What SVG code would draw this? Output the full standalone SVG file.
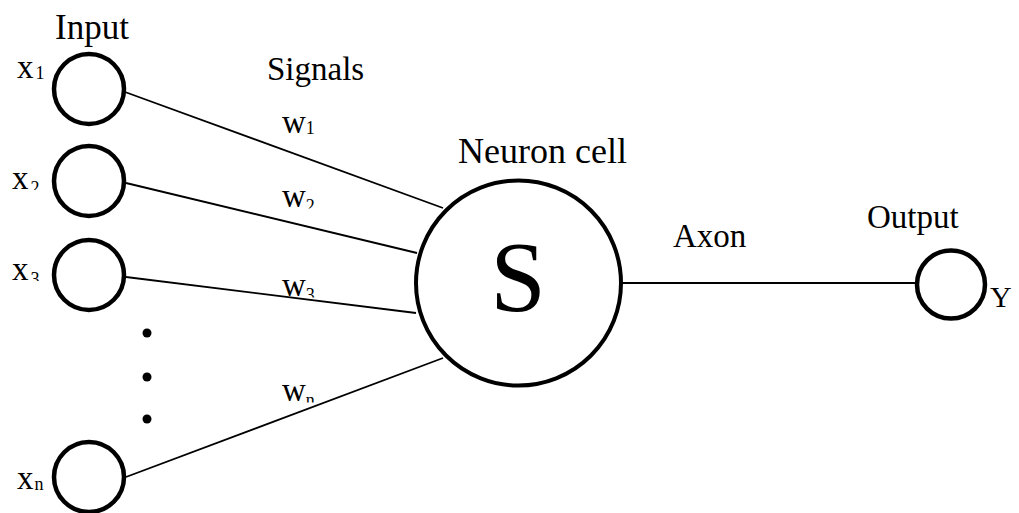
<svg xmlns="http://www.w3.org/2000/svg" width="1019" height="513" viewBox="0 0 1019 513" font-family="'Liberation Serif', 'Times New Roman', Times, serif">
<style>
text{font-family:'Liberation Serif','Times New Roman',Times,serif;fill:#000}
.lbl{font-size:33px}
.sub{font-size:18px}
.io{fill:#fff;stroke:#000;stroke-width:4.5}
.edge{stroke:#000;stroke-width:1.8;fill:none}
</style>
<defs>
<clipPath id="cx2"><rect x="0" y="150" width="60" height="40"/></clipPath>
<clipPath id="cx3"><rect x="0" y="245" width="60" height="36"/></clipPath>
<clipPath id="cw2"><rect x="270" y="180" width="70" height="28.5"/></clipPath>
<clipPath id="cw3"><rect x="270" y="270" width="70" height="27.5"/></clipPath>
<clipPath id="cwn"><rect x="270" y="375" width="70" height="27.5"/></clipPath>
</defs>
<rect width="1019" height="513" fill="#fff"/>
<g id="connectors">
<line class="edge" x1="125" y1="92" x2="443" y2="208"/>
<line class="edge" x1="126" y1="183" x2="417" y2="253"/>
<line class="edge" x1="126" y1="277" x2="416" y2="313"/>
<line class="edge" x1="126" y1="477" x2="443" y2="358"/>
<line class="edge" x1="622" y1="283" x2="916" y2="283"/>
</g>
<g id="weights">
<text class="lbl" x="282" y="133">w<tspan class="sub" dy="1">1</tspan></text>
<text class="lbl" x="282" y="207" clip-path="url(#cw2)">w<tspan class="sub" dy="5">2</tspan></text>
<text class="lbl" x="282" y="296" clip-path="url(#cw3)">w<tspan class="sub" dy="5">3</tspan></text>
<text class="lbl" x="282" y="401" clip-path="url(#cwn)">w<tspan class="sub" dy="5">n</tspan></text>
<text class="lbl" x="267" y="80">Signals</text>
</g>
<g id="input1">
<circle class="io" cx="89" cy="89" r="35"/>
<text class="lbl" x="17" y="78">x<tspan class="sub" dx="2" dy="1">1</tspan></text>
</g>
<g id="input2">
<circle class="io" cx="89" cy="181" r="35"/>
<text class="lbl" x="12" y="189" clip-path="url(#cx2)">x<tspan class="sub" dx="2" dy="5">2</tspan></text>
</g>
<g id="input3">
<circle class="io" cx="89" cy="275" r="35"/>
<text class="lbl" x="12" y="280" clip-path="url(#cx3)">x<tspan class="sub" dx="2" dy="5">3</tspan></text>
</g>
<g id="inputn">
<circle class="io" cx="89" cy="477" r="35"/>
<text class="lbl" x="17" y="489">x<tspan class="sub" dx="1" dy="1">n</tspan></text>
</g>
<g id="dots">
<circle cx="147" cy="333" r="4.5"/>
<circle cx="147" cy="377" r="4.5"/>
<circle cx="147" cy="419" r="4.5"/>
</g>
<text class="lbl" x="55" y="39" style="font-size:35px">Input</text>
<g id="neuron">
<circle cx="518.5" cy="283" r="102.5" fill="#fff" stroke="#000" stroke-width="4"/>
<text x="518" y="310" text-anchor="middle" style="font-size:100px">S</text>
<text class="lbl" x="458" y="163" style="font-size:36px">Neuron cell</text>
</g>
<text class="lbl" x="673" y="247">Axon</text>
<g id="output">
<circle class="io" cx="951" cy="284.5" r="34"/>
<text class="lbl" x="867" y="228">Output</text>
<text class="lbl" x="990" y="307" style="font-size:30px">Y</text>
</g>
</svg>
